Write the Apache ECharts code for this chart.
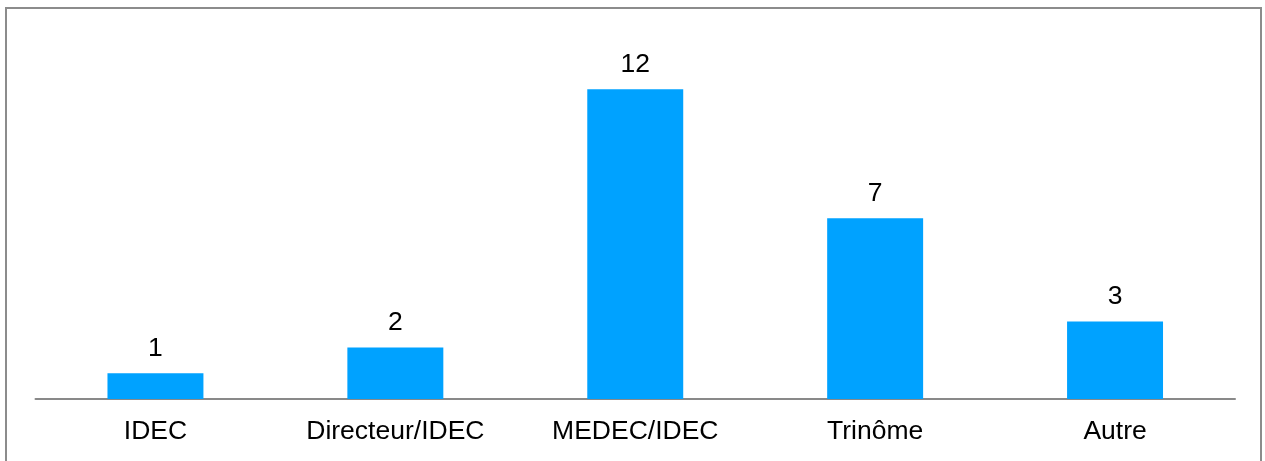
<!DOCTYPE html>
<html>
<head>
<meta charset="utf-8">
<script src="https://cdn.jsdelivr.net/npm/echarts@6/dist/echarts.min.js"></script>
<style>
html,body{margin:0;padding:0;background:#fff;}
#chart{width:1265px;height:461px;}
</style>
</head>
<body>
<div id="chart"></div>
<script>
const categories = ['IDEC', 'Directeur/IDEC', 'MEDEC/IDEC', 'Trinôme', 'Autre'];
const values = [1, 2, 12, 7, 3];

const chart = echarts.init(document.getElementById('chart'), null, {renderer: 'canvas'});
chart.setOption({
  backgroundColor: '#ffffff',
  animation: false,
  textStyle: {fontFamily: 'Liberation Sans, Arial, sans-serif'},
  graphic: [{
    type: 'rect',
    shape: {x: 6, y: 8, width: 1255, height: 470},
    style: {fill: 'none', stroke: '#8c8c8c', lineWidth: 2},
    silent: true
  }],
  grid: {left: 35.5, right: 30, top: 89.3, bottom: 62, containLabel: false},
  xAxis: {
    type: 'category',
    data: categories,
    axisLine: {show: true, lineStyle: {color: '#898989', width: 2}},
    axisTick: {show: false},
    axisLabel: {color: '#000', fontSize: 26.5, margin: 19, fontFamily: 'Liberation Sans, Arial, sans-serif'},
    splitLine: {show: false}
  },
  yAxis: {
    type: 'value',
    min: 0,
    max: 12,
    show: false,
    splitLine: {show: false}
  },
  series: [{
    type: 'bar',
    data: values,
    barWidth: '40%',
    itemStyle: {color: '#00A2FF'},
    label: {
      show: true,
      position: 'top',
      distance: 11,
      color: '#000',
      fontSize: 26.5,
      fontFamily: 'Liberation Sans, Arial, sans-serif'
    }
  }]
});
</script>
</body>
</html>
